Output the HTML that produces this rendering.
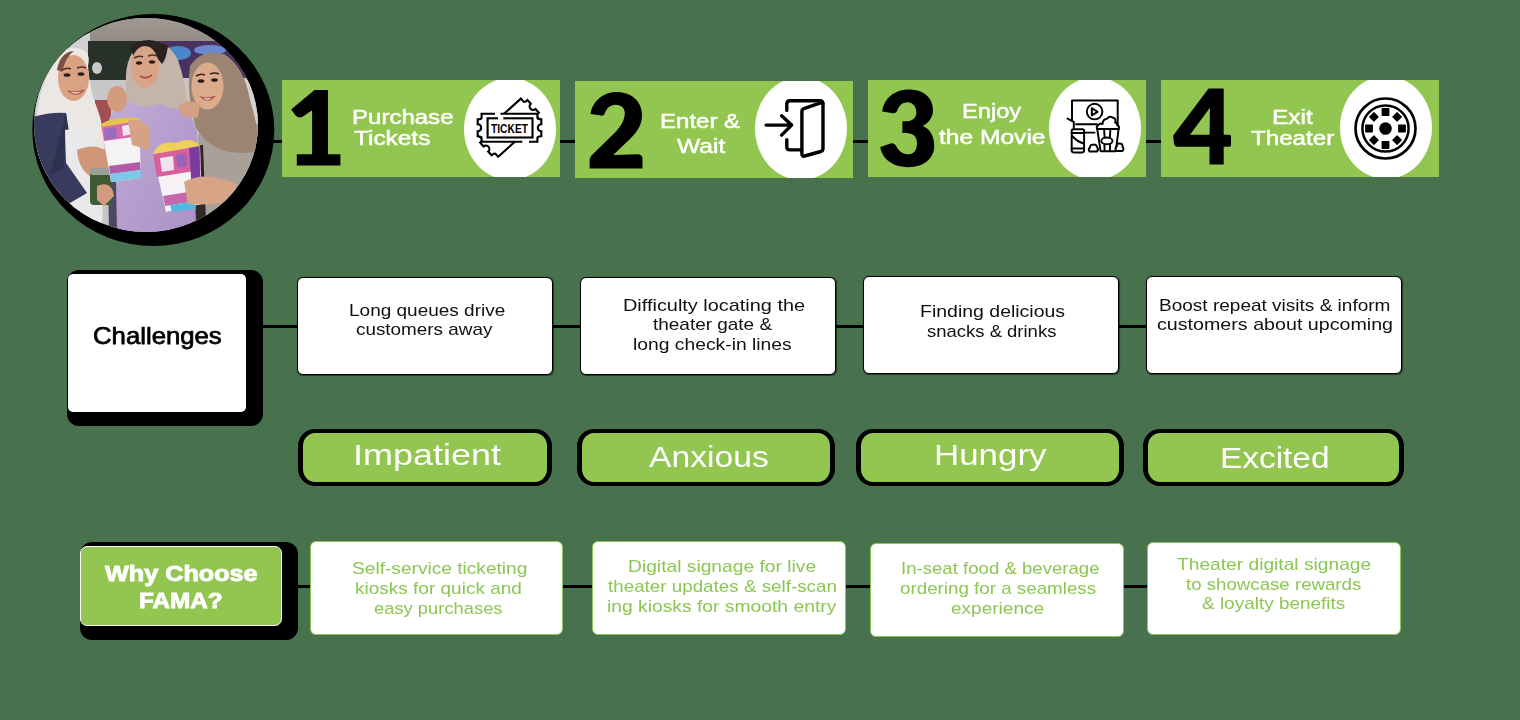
<!DOCTYPE html>
<html><head><meta charset="utf-8"><style>
html,body{margin:0;padding:0}
body{-webkit-font-smoothing:antialiased;width:1520px;height:720px;background:#48724E;position:relative;overflow:hidden;font-family:"Liberation Sans",sans-serif}
.t{position:absolute;white-space:nowrap;transform-origin:0 0;will-change:transform}
.ln{position:absolute;background:#000}
.step{position:absolute;width:278px;height:97px;background:#92C650;overflow:hidden}
.ell{position:absolute;width:92px;height:102.8px;border-radius:50%;background:#fff}
.shadowblk{position:absolute;background:#000}
.wbox{position:absolute;background:#fff}
.cbox{position:absolute;width:254px;height:96px;background:#fff;border:1.3px solid #000;border-radius:6px;box-shadow:0.5px 0.5px 1px rgba(0,0,0,.5)}
.pill{position:absolute;box-sizing:border-box;background:#92C650;border-style:solid;border-color:#000;border-width:4.6px 5.3px;border-radius:17px}
.gbox{position:absolute;box-sizing:border-box;background:#92C650;border:1.5px solid #fff;border-radius:7px}
.ebox{position:absolute;box-sizing:border-box;background:#fff;border:1.3px solid #8CC653;border-radius:6px}
svg{position:absolute}
</style></head><body>
<div class="ln" style="left:240px;top:140px;width:925px;height:3px"></div>
<div class="ln" style="left:250px;top:325px;width:900px;height:3px"></div>
<div class="ln" style="left:290px;top:585px;width:860px;height:3px"></div>
<div class="step" style="left:282px;top:80px"><div class="ell" style="left:181.50px;top:-2.50px"></div></div>
<div class="step" style="left:575px;top:81px"><div class="ell" style="left:179.90px;top:-4.10px"></div></div>
<div class="step" style="left:868px;top:80px"><div class="ell" style="left:181.20px;top:-3.05px"></div></div>
<div class="step" style="left:1161px;top:80px"><div class="ell" style="left:178.90px;top:-4.20px"></div></div>
<svg style="left:0;top:0" width="300" height="260" viewBox="0 0 300 260">
<defs><clipPath id="pc"><ellipse cx="146" cy="125" rx="112" ry="107"/></clipPath>
<linearGradient id="ceil" x1="0" y1="0" x2="0" y2="1"><stop offset="0" stop-color="#a49d98"/><stop offset="1" stop-color="#938b86"/></linearGradient>
<linearGradient id="lav" x1="0" y1="0" x2="1" y2="1"><stop offset="0" stop-color="#c2acd8"/><stop offset="1" stop-color="#a991c4"/></linearGradient>
</defs>
<ellipse cx="153.3" cy="130" rx="121" ry="116" fill="#000"/>
<g clip-path="url(#pc)">
<rect x="30" y="10" width="240" height="235" fill="#c8c6c6"/>
<rect x="30" y="10" width="240" height="31" fill="url(#ceil)"/>
<rect x="30" y="33" width="60" height="80" fill="#d2d0d0"/>
<rect x="88" y="41" width="62" height="39" fill="#28322a"/>
<ellipse cx="97" cy="68" rx="5" ry="6" fill="#c8c8c8"/>
<rect x="150" y="41" width="100" height="37" fill="#4a3260"/>
<ellipse cx="178" cy="53" rx="13" ry="7" fill="#4a86c8"/>
<ellipse cx="210" cy="50" rx="16" ry="5" fill="#6a88d0"/>
<rect x="95" y="100" width="16" height="25" fill="#a05050"/>
<rect x="226" y="80" width="36" height="50" fill="#d4d2d2"/>
<!-- left woman hijab -->
<path d="M 36,125 Q 38,90 52,66 Q 62,46 76,48 Q 92,50 88,66 Q 90,92 97,108 Q 104,125 104,150 L 102,232 L 60,232 L 36,200 Z" fill="#ebe7e4"/>
<ellipse cx="73.5" cy="78" rx="15.5" ry="23" fill="#d9a283"/>
<path d="M 57,70 Q 60,52 74,51 Q 66,56 62,72 Z" fill="#7a5040"/>
<path d="M 62,70 Q 67,67 71,69 M 77,68 Q 82,66 86,68" stroke="#4a3028" stroke-width="1.6" fill="none"/><ellipse cx="67" cy="75" rx="3.4" ry="1.8" fill="#2a1c18"/><ellipse cx="81" cy="74" rx="3.4" ry="1.8" fill="#2a1c18"/>
<path d="M 68,91 Q 76,98 84,90 Q 76,93 68,91 Z" fill="#f4eeea" stroke="#b05a50" stroke-width="1.2"/>
<!-- navy robe -->
<path d="M 30,118 Q 48,112 66,113 L 70,150 Q 80,165 87,193 L 70,203 L 76,240 L 30,240 Z" fill="#383a5e"/>
<path d="M 66,113 L 72,150 L 68,166 L 50,175 Z" fill="#2f3150"/>
<!-- middle woman body -->
<path d="M 112,232 L 108,122 Q 118,96 150,92 Q 185,96 197,130 L 200,240 Z" fill="url(#lav)"/>
<path d="M 108,180 L 116,182 L 117,232 L 109,232 Z" fill="#4a4a60"/>
<!-- middle hijab -->
<path d="M 126,84 Q 124,52 146,40 Q 168,40 178,60 Q 186,84 188,108 Q 176,112 160,104 Q 140,110 126,100 Z" fill="#c5b4aa"/>
<path d="M 130,46 Q 148,34 168,46 Q 166,60 162,64 Q 150,46 134,58 Z" fill="#2a2220"/>
<ellipse cx="145" cy="67" rx="14" ry="21" fill="#d8a488"/>
<path d="M 134,58 Q 139,55 143,57 M 148,56 Q 153,54 157,56" stroke="#4a3028" stroke-width="1.5" fill="none"/><ellipse cx="139" cy="63" rx="3.2" ry="1.7" fill="#2a1c18"/><ellipse cx="152" cy="62" rx="3.2" ry="1.7" fill="#2a1c18"/><path d="M 140,76 Q 146,80 152,75" stroke="#b04a4a" stroke-width="1.8" fill="none"/>
<ellipse cx="117" cy="99" rx="10" ry="13" fill="#d39c7c"/>
<!-- right woman -->
<path d="M 200,240 L 198,134 Q 225,122 262,124 L 262,240 Z" fill="#a9a098"/>
<path d="M 196,128 Q 186,95 190,66 Q 202,48 224,54 Q 244,66 250,100 Q 258,125 260,150 Q 240,156 222,150 Q 204,142 196,128 Z" fill="#9c8473"/>
<ellipse cx="207.5" cy="86" rx="16" ry="23.5" fill="#dcab8c"/>
<path d="M 196,76 Q 201,73 205,75 M 210,74 Q 215,72 219,74" stroke="#3a2520" stroke-width="1.6" fill="none"/><ellipse cx="201" cy="81" rx="3.4" ry="1.8" fill="#2a1c18"/><ellipse cx="214.5" cy="80" rx="3.4" ry="1.8" fill="#2a1c18"/>
<path d="M 201,97 Q 208,104 215,96 Q 208,99 201,97 Z" fill="#f4eeea" stroke="#b05a50" stroke-width="1.2"/>
<path d="M 193,146 L 203,145 L 206,222 L 196,222 Z" fill="#2e2826"/>
<path d="M 178,106 Q 188,98 200,104 L 198,118 L 182,116 Z" fill="#d4a084"/>
<!-- white shawl of left woman -->
<path d="M 65,130 L 88,126 Q 98,160 102,222 L 72,230 Q 66,190 65,130 Z" fill="#e9e8ea"/>
<path d="M 64,160 L 87,193 L 70,203 L 62,205 Z" fill="#383a5e"/>
<!-- hand holding cup -->
<path d="M 77,150 Q 95,142 108,152 L 110,174 L 90,176 Q 78,168 77,150 Z" fill="#cf9678"/>
<rect x="90" y="172" width="22" height="33" rx="4" fill="#3f5a35"/>
<rect x="90" y="168" width="22" height="7" rx="3" fill="#9aa098"/>
<path d="M 97,186 Q 112,180 114,196 L 104,206 L 97,200 Z" fill="#d49a80"/>
<!-- popcorn box 1 -->
<path d="M 101,124 L 139,118 L 141,178 L 111,182 Z" fill="#f4f2f4"/>
<path d="M 101,124 L 139,118 L 139.6,136 L 104,141 Z" fill="#d86aa6"/>
<path d="M 104,129 L 116,127 L 117,138 L 105,140 Z" fill="#9a6cc0"/>
<path d="M 122,126 L 132,124 L 133,134 L 123,136 Z" fill="#f0e6f0"/>
<path d="M 109,166 L 140,162 L 140.6,170 L 110,174 Z" fill="#b45aa8"/>
<path d="M 110,174 L 141,170 L 141,178 L 111,182 Z" fill="#7cc8e6"/>
<path d="M 101,124 Q 115,116 139,118 L 139,121 L 102,127 Z" fill="#e3c44c"/>
<path d="M 128,120 Q 142,118 150,128 L 149,150 L 132,145 Z" fill="#d6a286"/>
<!-- popcorn box 2 -->
<path d="M 153,154 L 200,146 L 202,204 L 166,212 Z" fill="#f4f2f4"/>
<path d="M 153,154 L 200,146 L 200.6,170 L 157,177 Z" fill="#d8609c"/>
<path d="M 160,158 L 173,156 L 174,170 L 162,172 Z" fill="#efe4ee"/>
<path d="M 176,155 L 186,153 L 187,166 L 177,168 Z" fill="#9a62b8"/>
<path d="M 189,147 L 199,146 L 201,190 L 192,192 Z" fill="#7a3c9e"/>
<path d="M 163,196 L 201,190 L 201.6,200 L 165,206 Z" fill="#c766a8"/>
<path d="M 170,205 L 195,201 L 196,209 L 172,212 Z" fill="#55b8e2"/>
<path d="M 153,154 Q 158,140 176,143 Q 192,136 200,146 Z" fill="#f0d05a"/>
<path d="M 184,182 Q 205,170 236,184 L 238,200 Q 210,206 188,204 Z" fill="#d8a488"/>
</g>
</svg>

<svg style="left:0;top:0" width="1520" height="200" viewBox="0 0 1520 200">
<defs>
<path id="tk" d="M -27.9,-14 L 27.9,-14 L 27.9,-10 Q 27.9,-8.5 31.8,-8.5 L 31.8,-3.5 A 3.5 3.5 0 0 0 31.8,3.5 L 31.8,8.5 Q 27.9,8.5 27.9,10 L 27.9,14 L -27.9,14 L -27.9,10 Q -27.9,8.5 -31.8,8.5 L -31.8,3.5 A 3.5 3.5 0 0 0 -31.8,-3.5 L -31.8,-8.5 Q -27.9,-8.5 -27.9,-10 Z"/>
</defs>
<!-- ticket -->
<g fill="#fff" stroke="#000" stroke-width="2.15" stroke-linejoin="miter">
<use href="#tk" transform="translate(509.5,127.7) rotate(-42)"/>
<use href="#tk" transform="translate(509.5,127.7)"/>
</g>
<g stroke="#fff" stroke-width="3.2">
<line x1="495" y1="113.7" x2="500.5" y2="113.7"/>
<line x1="522.3" y1="141.7" x2="529" y2="141.7"/>
</g>
<rect x="487.6" y="118.3" width="44.9" height="19.2" fill="none" stroke="#000" stroke-width="2.1"/>
<line x1="498" y1="118.3" x2="503.3" y2="118.3" stroke="#fff" stroke-width="3"/>
<text x="491" y="132.6" font-family="Liberation Sans" font-weight="700" font-size="12" textLength="37" lengthAdjust="spacingAndGlyphs" fill="#000">TICKET</text>
<!-- door -->
<g fill="none" stroke="#000" stroke-width="3.4" stroke-linecap="round" stroke-linejoin="round">
<path d="M 801.5,149.9 L 790,149.9 Q 786.8,149.9 786.8,146.7 L 786.8,139.6"/>
<path d="M 786.8,110.4 L 786.8,104 Q 786.8,100.7 790,100.7 L 819.8,100.7 Q 823,100.7 823,104"/>
<path d="M 804.5,108.3 L 820.5,102.8 Q 823,102 823,104.8 L 823,148.5 Q 823,150.8 820.8,151.5 L 804.6,156 Q 801.9,156.8 801.9,153.8 L 801.9,111.5 Q 801.9,109 804.5,108.3 Z"/>
<path d="M 766.1,125.1 L 791.6,125.1 M 781.6,115.8 L 791.6,125.1 L 781.6,135.1"/>
</g>
<!-- movie -->
<g fill="#fff" stroke="#000" stroke-width="1.95" stroke-linejoin="round" stroke-linecap="round">
<path fill="none" d="M 1072,121 L 1072,100.4 L 1117.7,100.4 L 1117.7,127"/>
<path fill="none" d="M 1076,124.2 L 1097,124.2"/>
<path fill="none" d="M 1085,132.6 L 1094.6,132.6"/>
<circle fill="none" cx="1094.6" cy="111.6" r="7.8"/>
<path fill="none" d="M 1091.8,108.2 L 1091.8,115.3 L 1097.6,111.8 Z"/>
<rect x="1071.7" y="129.2" width="12.4" height="23.2" rx="1.8"/>
<path fill="none" d="M 1071.7,133 L 1084.1,133 M 1071.7,148.4 L 1084.1,148.4"/>
<path fill="none" d="M 1072.2,136 Q 1077,141.5 1083.6,143.5"/>
<path fill="none" d="M 1067.5,118.6 L 1073.8,121.8 L 1073.8,129"/>
<path d="M 1097.2,129 L 1100.6,151.2 L 1115.8,151.2 L 1118.6,129 Z"/>
<path fill="none" d="M 1104.2,130.5 L 1104.6,137.5 M 1110.3,130.5 L 1109.9,137.5 M 1104.4,144.3 L 1104.6,151 M 1110.1,144.3 L 1109.9,151"/>
<ellipse cx="1106.9" cy="140.9" rx="5.6" ry="3.3"/>
<path d="M 1097.2,129 Q 1095.8,126 1098.5,125 Q 1100,122.8 1102.5,124 Q 1103,119 1107,118.8 Q 1109,115.5 1112.5,117.5 Q 1116.5,118.5 1115.2,122.5 Q 1117.8,123.5 1117,125 Q 1120,126 1118.6,129 Z"/>
<path d="M 1089.5,151.5 Q 1087.8,149 1090,147.5 Q 1090,144.5 1093,144.8 Q 1096,143.8 1097,147 Q 1099,149.5 1097,151.5 Z"/>
<path d="M 1116,151 Q 1114.6,148 1116.8,146.5 Q 1116.5,143.2 1119.8,143.5 Q 1123,143.5 1122.6,146.8 Q 1124.5,149.2 1122.2,151 Z"/>
</g>
<!-- reel -->
<g fill="none" stroke="#000">
<circle cx="1385.5" cy="128.5" r="30" stroke-width="2.7"/>
<circle cx="1385.5" cy="128.5" r="23.1" stroke-width="2.5"/>
</g>
<g fill="#000">
<circle cx="1385.5" cy="128.5" r="6.3"/>
<g transform="translate(1385.5,128.5)">
<rect x="-3.9" y="-20.4" width="7.8" height="7.8" rx="0.6"/>
<rect x="-3.9" y="12.6" width="7.8" height="7.8" rx="0.6"/>
<rect x="-20.4" y="-3.9" width="7.8" height="7.8" rx="0.6"/>
<rect x="12.6" y="-3.9" width="7.8" height="7.8" rx="0.6"/>
<g transform="rotate(45)">
<rect x="-3.6" y="-20" width="7.2" height="7.2" rx="0.6"/>
<rect x="-3.6" y="12.8" width="7.2" height="7.2" rx="0.6"/>
<rect x="-20" y="-3.6" width="7.2" height="7.2" rx="0.6"/>
<rect x="12.8" y="-3.6" width="7.2" height="7.2" rx="0.6"/>
</g>
</g>
</g>
</svg>

<svg style="left:0;top:0" width="1520" height="200" viewBox="0 0 1520 200">
<g fill="#000">
<path d="M 314.5,89.9 L 328,89.9 L 328,154.2 L 340.4,154.2 L 340.4,165.6 L 296.8,165.6 L 296.8,154.2 L 312.1,154.2 L 312.1,110.3 L 302.5,116.8 Q 298.5,118.8 295.6,115.5 L 291.1,109.6 Z"/>
<path d="M 590.6,114.1 C 592,102 603,92.1 616.2,92.1 C 631,92.1 642,101 642,115 C 642,124 638,131 631,138 L 613.2,155.1 L 637.5,154.2 Q 642.5,154.2 642.5,159 L 642.5,168.6 L 589.6,168.6 L 589.6,159.4 Q 589.8,157 592,155 L 614,133.5 C 621,126.5 624.8,120 624.8,113 C 624.8,107.5 620.5,104.8 615.5,104.8 C 610,104.8 606.5,108.5 604.5,114 Q 603.5,116 601,115.6 Z"/>
<path d="M 882.2,111.5 C 884,98 895,89.5 908.5,89.5 C 924,89.5 933,98 933,110 C 933,118 928,123.5 922.5,126 C 930,128.5 934.2,136 934.2,146 C 934.2,159 923,167.2 908.5,167.2 C 893,167.2 882,159 880.3,147 L 891.3,143.3 Q 894.5,142.8 896.5,146.5 C 899,151.5 903,154.3 908.5,154.3 C 914,154.3 917,150 917,143 C 917,136.5 913,132.9 906,132.9 L 902.4,132.9 L 902.4,121.3 L 906,121.3 C 912,121.3 916.4,118 916.4,112.5 C 916.4,106.5 912.5,102.3 907.5,102.3 C 903,102.3 899.5,105 897.5,110 Q 896,113.5 893,113.2 Z"/>
<path fill-rule="evenodd" d="M 1208.6,88.6 L 1223.7,88.6 L 1223.7,134.8 L 1229.5,134.8 Q 1231,134.8 1231,136.5 L 1231,145 Q 1231,146.7 1229.5,146.7 L 1223.7,146.7 L 1223.7,164.5 L 1209.5,164.5 L 1209.5,146.7 L 1177.5,146.7 Q 1174.3,146.7 1173.9,143 L 1173.2,135.5 Z M 1209.9,107.7 L 1209.6,134.8 L 1190,134.8 Z"/>
</g>
</svg>

<div class="t" style="left:352.05px;top:106.70px;font-size:20px;line-height:20px;font-weight:400;color:#ffffff;transform:scaleX(1.2012);-webkit-text-stroke:0.5px #ffffff;">Purchase</div>
<div class="t" style="left:353.54px;top:127.60px;font-size:20px;line-height:20px;font-weight:400;color:#ffffff;transform:scaleX(1.2195);-webkit-text-stroke:0.5px #ffffff;">Tickets</div>
<div class="t" style="left:660.25px;top:110.80px;font-size:20px;line-height:20px;font-weight:400;color:#ffffff;transform:scaleX(1.2015);-webkit-text-stroke:0.5px #ffffff;">Enter &amp;</div>
<div class="t" style="left:677.25px;top:135.50px;font-size:20px;line-height:20px;font-weight:400;color:#ffffff;transform:scaleX(1.2308);-webkit-text-stroke:0.5px #ffffff;">Wait</div>
<div class="t" style="left:961.58px;top:101.40px;font-size:20px;line-height:20px;font-weight:400;color:#ffffff;transform:scaleX(1.1824);-webkit-text-stroke:0.5px #ffffff;">Enjoy</div>
<div class="t" style="left:938.89px;top:126.60px;font-size:20px;line-height:20px;font-weight:400;color:#ffffff;transform:scaleX(1.2286);-webkit-text-stroke:0.5px #ffffff;">the Movie</div>
<div class="t" style="left:1271.71px;top:106.70px;font-size:20px;line-height:20px;font-weight:400;color:#ffffff;transform:scaleX(1.2222);-webkit-text-stroke:0.5px #ffffff;">Exit</div>
<div class="t" style="left:1250.85px;top:127.70px;font-size:20px;line-height:20px;font-weight:400;color:#ffffff;transform:scaleX(1.2073);-webkit-text-stroke:0.5px #ffffff;">Theater</div>
<div class="shadowblk" style="left:67px;top:270px;width:195.5px;height:155.5px;border-radius:12px"></div>
<div class="wbox" style="left:68px;top:274px;width:178px;height:138px;border-radius:5px"></div>
<div class="t" style="left:92.56px;top:323.50px;font-size:24px;line-height:24px;font-weight:400;color:#000;transform:scaleX(1.0720);-webkit-text-stroke:0.75px #000;">Challenges</div>
<div class="cbox" style="left:297px;top:277px"></div>
<div class="cbox" style="left:580px;top:277px"></div>
<div class="cbox" style="left:863px;top:276px"></div>
<div class="cbox" style="left:1146px;top:276px"></div>
<div class="t" style="left:349.16px;top:301.55px;font-size:17px;line-height:17px;font-weight:400;color:#111;transform:scaleX(1.1172);">Long queues drive</div>
<div class="t" style="left:356.37px;top:321.15px;font-size:17px;line-height:17px;font-weight:400;color:#111;transform:scaleX(1.1103);">customers away</div>
<div class="t" style="left:623.29px;top:296.55px;font-size:17px;line-height:17px;font-weight:400;color:#111;transform:scaleX(1.1700);">Difficulty locating the</div>
<div class="t" style="left:652.72px;top:316.35px;font-size:17px;line-height:17px;font-weight:400;color:#111;transform:scaleX(1.1149);">theater gate &amp;</div>
<div class="t" style="left:632.72px;top:336.35px;font-size:17px;line-height:17px;font-weight:400;color:#111;transform:scaleX(1.1345);">long check-in lines</div>
<div class="t" style="left:919.62px;top:302.55px;font-size:17px;line-height:17px;font-weight:400;color:#111;transform:scaleX(1.1458);">Finding delicious</div>
<div class="t" style="left:927.36px;top:322.55px;font-size:17px;line-height:17px;font-weight:400;color:#111;transform:scaleX(1.0867);">snacks &amp; drinks</div>
<div class="t" style="left:1159.16px;top:296.55px;font-size:17px;line-height:17px;font-weight:400;color:#111;transform:scaleX(1.1185);">Boost repeat visits &amp; inform</div>
<div class="t" style="left:1157.03px;top:316.35px;font-size:17px;line-height:17px;font-weight:400;color:#111;transform:scaleX(1.1565);">customers about upcoming</div>
<div class="pill" style="left:298px;top:429px;width:254px;height:57px"></div>
<div class="pill" style="left:577px;top:429px;width:258px;height:57px"></div>
<div class="pill" style="left:856px;top:429px;width:268px;height:57px"></div>
<div class="pill" style="left:1143px;top:429px;width:261px;height:57px"></div>
<div class="t" style="left:353.30px;top:439.70px;font-size:30px;line-height:30px;font-weight:400;color:#ffffff;transform:scaleX(1.1983);">Impatient</div>
<div class="t" style="left:649.36px;top:442.40px;font-size:30px;line-height:30px;font-weight:400;color:#ffffff;transform:scaleX(1.1223);">Anxious</div>
<div class="t" style="left:934.39px;top:439.50px;font-size:30px;line-height:30px;font-weight:400;color:#ffffff;transform:scaleX(1.1633);">Hungry</div>
<div class="t" style="left:1220.12px;top:442.50px;font-size:30px;line-height:30px;font-weight:400;color:#ffffff;transform:scaleX(1.1128);">Excited</div>
<div class="shadowblk" style="left:80px;top:542px;width:218px;height:98px;border-radius:12px"></div>
<div class="gbox" style="left:80px;top:546px;width:201.5px;height:80px"></div>
<div class="t" style="left:105.20px;top:564.02px;font-size:21.5px;line-height:21.5px;font-weight:700;color:#ffffff;transform:scaleX(1.1722);-webkit-text-stroke:0.9px #ffffff;">Why Choose</div>
<div class="t" style="left:139.35px;top:590.93px;font-size:21.5px;line-height:21.5px;font-weight:700;color:#ffffff;transform:scaleX(1.1292);-webkit-text-stroke:0.9px #ffffff;">FAMA?</div>
<div class="ebox" style="left:310px;top:541px;width:253px;height:94px"></div>
<div class="ebox" style="left:592px;top:541px;width:254px;height:94px"></div>
<div class="ebox" style="left:870px;top:543px;width:254px;height:94px"></div>
<div class="ebox" style="left:1147px;top:542px;width:254px;height:93px"></div>
<div class="t" style="left:352.36px;top:560.15px;font-size:17px;line-height:17px;font-weight:400;color:#8CC653;transform:scaleX(1.1251);">Self-service ticketing</div>
<div class="t" style="left:354.54px;top:580.15px;font-size:17px;line-height:17px;font-weight:400;color:#8CC653;transform:scaleX(1.1181);">kiosks for quick and</div>
<div class="t" style="left:373.69px;top:599.95px;font-size:17px;line-height:17px;font-weight:400;color:#8CC653;transform:scaleX(1.0794);">easy purchases</div>
<div class="t" style="left:627.64px;top:558.15px;font-size:17px;line-height:17px;font-weight:400;color:#8CC653;transform:scaleX(1.1312);">Digital signage for live</div>
<div class="t" style="left:607.62px;top:578.15px;font-size:17px;line-height:17px;font-weight:400;color:#8CC653;transform:scaleX(1.1059);">theater updates &amp; self-scan</div>
<div class="t" style="left:606.62px;top:597.95px;font-size:17px;line-height:17px;font-weight:400;color:#8CC653;transform:scaleX(1.1341);">ing kiosks for smooth entry</div>
<div class="t" style="left:900.66px;top:560.15px;font-size:17px;line-height:17px;font-weight:400;color:#8CC653;transform:scaleX(1.0940);">In-seat food &amp; beverage</div>
<div class="t" style="left:900.07px;top:580.15px;font-size:17px;line-height:17px;font-weight:400;color:#8CC653;transform:scaleX(1.1041);">ordering for a seamless</div>
<div class="t" style="left:951.36px;top:599.95px;font-size:17px;line-height:17px;font-weight:400;color:#8CC653;transform:scaleX(1.1193);">experience</div>
<div class="t" style="left:1176.88px;top:556.35px;font-size:17px;line-height:17px;font-weight:400;color:#8CC653;transform:scaleX(1.1289);">Theater digital signage</div>
<div class="t" style="left:1186.43px;top:576.15px;font-size:17px;line-height:17px;font-weight:400;color:#8CC653;transform:scaleX(1.0977);">to showcase rewards</div>
<div class="t" style="left:1202.20px;top:595.15px;font-size:17px;line-height:17px;font-weight:400;color:#8CC653;transform:scaleX(1.1151);">&amp; loyalty benefits</div>
</body></html>
